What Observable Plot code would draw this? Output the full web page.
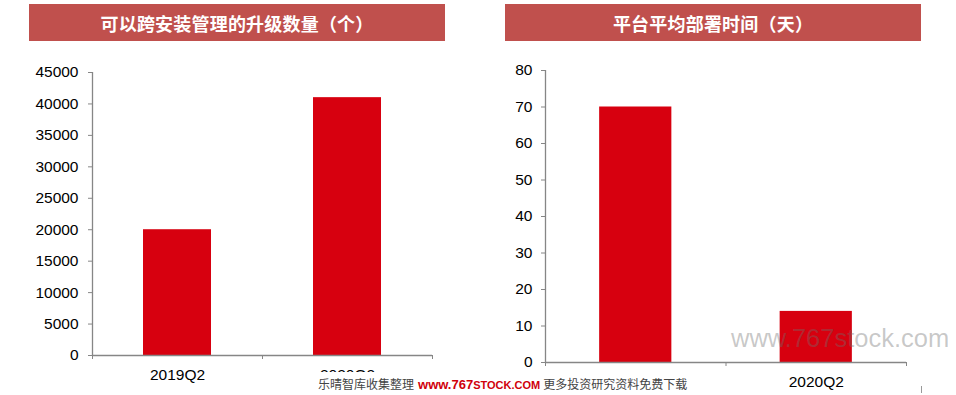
<!DOCTYPE html>
<html>
<head>
<meta charset="utf-8">
<script src="https://cdn.jsdelivr.net/npm/d3@7"></script>
<script src="https://cdn.jsdelivr.net/npm/@observablehq/plot@0.6"></script>
<style>
  html, body { margin: 0; padding: 0; background: #fff; }
  #root { position: relative; width: 956px; height: 395px; overflow: hidden; background: #fff; font-family: "Liberation Sans", Arial, sans-serif; }
  .panel { position: absolute; top: 0; }
  .header { position: absolute; top: 4px; height: 37px; background: #c0504d; color: #fff;
    font-family: "Noto Sans CJK SC", sans-serif; font-weight: bold; font-size: 18px;
    display: flex; align-items: center; justify-content: center; letter-spacing: 0.2px; }
  .strip { position: absolute; left: 312px; top: 372px; width: 392px; height: 23px; background: #fff;
    display: flex; align-items: center; white-space: nowrap; padding-left: 6px; box-sizing: border-box; }
  .strip .cn { font-family: "Noto Sans CJK SC", sans-serif; font-size: 12px; color: #444; }
  .strip .url { font-family: "Liberation Sans", Arial, sans-serif; font-weight: bold; color: #d0000b; margin: 0 3px 0 4px; }
  .wm { position: absolute; left: 731px; top: 324px; font-family: "Liberation Sans", Arial, sans-serif;
    font-size: 25.5px; color: rgba(110,110,110,0.38); white-space: nowrap; }
  .mark { position: absolute; left: 921px; top: 386px; width: 1px; height: 7px; background: #999; }
</style>
</head>
<body>
<div id="root">
  <div id="left" class="panel" style="left:0px"></div>
  <div id="right" class="panel" style="left:480px"></div>
  <div class="header" style="left:29px;width:416px">可以跨安装管理的升级数量（个）</div>
  <div class="header" style="left:505px;width:416px">平台平均部署时间（天）</div>
  <div class="strip"><span class="cn">乐晴智库收集整理</span><span class="url"><span style="font-size:13px">www.767</span><span style="font-size:11px">STOCK.COM</span></span><span class="cn">更多投资研究资料免费下载</span></div>
  <div class="wm">www.767stock.com</div>
  <div class="mark"></div>
</div>
<script>
const categories = ["2019Q2", "2020Q2"];
const upgradeCounts = [20000, 41000];
const deployDays = [70, 14];
const leftTicks = [0, 5000, 10000, 15000, 20000, 25000, 30000, 35000, 40000, 45000];
const rightTicks = [0, 10, 20, 30, 40, 50, 60, 70, 80];

const barColor = "#d7000f";
const axisColor = "#868686";

function makeChart(values, yTicks, yMax, dims) {
  const data = categories.map((c, i) => ({ i, category: c, value: values[i] }));
  return Plot.plot({
    width: dims.width,
    height: 395,
    marginTop: dims.top,
    marginBottom: dims.bottom,
    marginLeft: dims.left,
    marginRight: dims.right,
    style: { fontFamily: "'Liberation Sans', Arial, sans-serif", fontSize: "15.5px", color: "#000", background: "transparent", overflow: "visible" },
    x: { domain: [0, categories.length], axis: null },
    y: { domain: [0, yMax], axis: null },
    marks: [
      Plot.rectY(data, { x1: d => d.i + 0.3, x2: d => d.i + 0.7, y: "value", fill: barColor }),
      Plot.axisY({ ticks: yTicks, tickSize: 4, tickPadding: dims.yPad, stroke: axisColor, fill: "#000", fontSize: 15.5, label: null, tickFormat: d => String(d) }),
      Plot.axisX({ ticks: d3.range(categories.length + 1), tickSize: 4, stroke: axisColor, tickFormat: () => "", label: null }),
      Plot.axisX({ ticks: categories.map((c, i) => i + 0.5), tickSize: 0, tickPadding: 13, fill: "#000", fontSize: 15.5, tickFormat: d => categories[Math.floor(d)], label: null }),
      Plot.ruleX([0], { stroke: axisColor, strokeWidth: 1.3 }),
      Plot.ruleY([0], { stroke: axisColor, strokeWidth: 1.3 })
    ]
  });
}

document.getElementById("left").append(
  makeChart(upgradeCounts, leftTicks, 45000, { width: 480, top: 72, bottom: 40, left: 92, right: 48, yPad: 10 })
);
document.getElementById("right").append(
  makeChart(deployDays, rightTicks, 80, { width: 476, top: 70, bottom: 33, left: 65, right: 50, yPad: 9 })
);
</script>
</body>
</html>
